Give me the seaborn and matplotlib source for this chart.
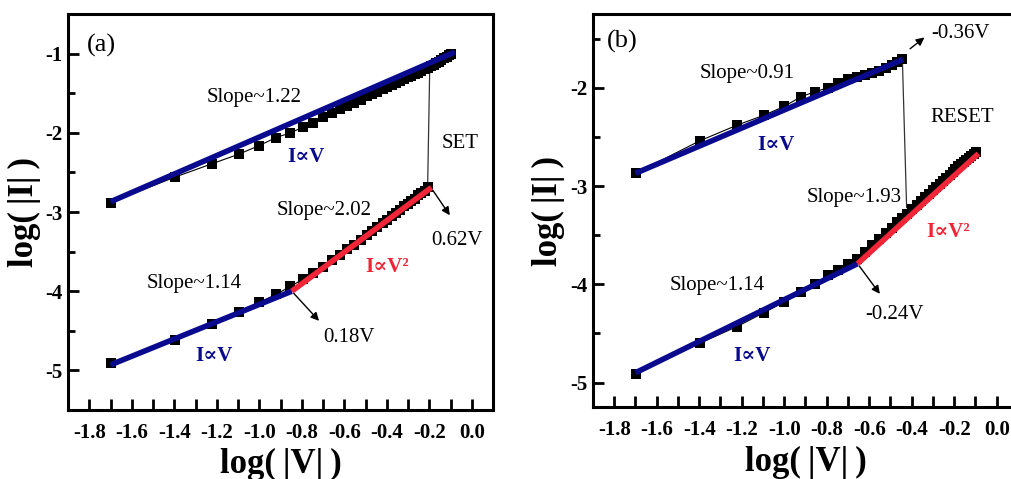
import matplotlib
matplotlib.use('Agg')
import matplotlib.pyplot as plt
import seaborn as sns
from matplotlib.ticker import MultipleLocator, FuncFormatter

sns.set_style('ticks', {'axes.edgecolor': 'black', 'xtick.color': 'black',
                        'ytick.color': 'black', 'text.color': 'black', 'axes.labelcolor': 'black'})
plt.rcParams['font.family'] = ['Liberation Serif', 'DejaVu Serif']
plt.rcParams['axes.unicode_minus'] = False

# log(|V|) of the sweep points (0.02 V steps)
logv_full = [-1.699, -1.398, -1.222, -1.097, -1.000, -0.921, -0.854, -0.796, -0.745, -0.699,
             -0.658, -0.620, -0.585, -0.553, -0.523, -0.495, -0.469, -0.444, -0.420, -0.398,
             -0.377, -0.357, -0.337, -0.319, -0.301, -0.284, -0.268, -0.252, -0.237, -0.222,
             -0.208, -0.194, -0.180, -0.167, -0.155, -0.143, -0.131, -0.119, -0.108, -0.097]
logv_set = logv_full[:31]     # up to 0.62 V
logv_reset = logv_full[:18]   # up to 0.36 V

# panel (a): SET
logi_a_low = [-4.90, -4.61, -4.42, -4.26, -4.14, -4.04, -3.94, -3.85, -3.77, -3.69,
              -3.61, -3.54, -3.47, -3.41, -3.35, -3.29, -3.24, -3.19, -3.14, -3.10,
              -3.05, -3.01, -2.97, -2.93, -2.90, -2.86, -2.83, -2.79, -2.76, -2.73,
              -2.69]
logi_a_high = [-2.88, -2.56, -2.39, -2.27, -2.16, -2.06, -2.00, -1.93, -1.87, -1.80,
               -1.75, -1.70, -1.66, -1.62, -1.58, -1.54, -1.51, -1.48, -1.45, -1.42,
               -1.39, -1.37, -1.34, -1.32, -1.30, -1.28, -1.26, -1.24, -1.22, -1.20,
               -1.18, -1.16, -1.14, -1.12, -1.10, -1.08, -1.06, -1.04, -1.02, -1.00]

# panel (b): RESET
logi_b_high = [-2.87, -2.54, -2.38, -2.28, -2.19, -2.09, -2.04, -2.00, -1.95, -1.91,
               -1.89, -1.87, -1.85, -1.83, -1.80, -1.77, -1.74, -1.71]
logi_b_low = [-4.91, -4.60, -4.43, -4.29, -4.18, -4.08, -4.00, -3.91, -3.85, -3.79,
              -3.74, -3.67, -3.60, -3.54, -3.48, -3.43, -3.37, -3.32, -3.28, -3.23,
              -3.19, -3.15, -3.11, -3.08, -3.04, -3.01, -2.98, -2.95, -2.92, -2.89,
              -2.86, -2.83, -2.80, -2.78, -2.76, -2.73, -2.71, -2.69, -2.67, -2.65]

# linear fits (end points)
fit_a_high = ([-1.70, -0.08], [-2.87, -0.98])
fit_a_low1 = ([-1.70, -0.847], [-4.93, -4.00])
fit_a_low2 = ([-0.847, -0.19], [-4.00, -2.69])
fit_b_high = ([-1.70, -0.44], [-2.87, -1.71])
fit_b_low1 = ([-1.70, -0.655], [-4.90, -3.79])
fit_b_low2 = ([-0.655, -0.086], [-3.79, -2.67])

BLUE = '#0a0a8e'
RED = '#f02638'
LABEL_V = 'log(\u2009|V|\u2009)'
LABEL_I = 'log(\u2009|I|\u2009)'

fig = plt.figure(figsize=(10.11, 4.79), dpi=100)
ax_a = fig.add_axes([0.0673, 0.144, 0.4204, 0.8267])
ax_b = fig.add_axes([0.5865, 0.150, 0.4204, 0.8205])


def draw_branch(ax, x, y):
    sns.lineplot(x=x, y=y, ax=ax, color='black', lw=0.8, sort=False, estimator=None, zorder=2)
    sns.scatterplot(x=x, y=y, ax=ax, marker='s', s=62, color='black', linewidth=0, zorder=3)


def draw_fit(ax, fit, color):
    sns.lineplot(x=fit[0], y=fit[1], ax=ax, color=color, lw=4, sort=False, estimator=None,
                 zorder=4, solid_capstyle='butt')


def style_axes(ax, ylim):
    ax.set_xlim(-1.9, 0.1)
    ax.set_ylim(*ylim)
    ax.xaxis.set_major_locator(MultipleLocator(0.2))
    ax.xaxis.set_minor_locator(MultipleLocator(0.1))
    ax.yaxis.set_major_locator(MultipleLocator(1))
    ax.yaxis.set_minor_locator(MultipleLocator(0.5))
    ax.xaxis.set_major_formatter(FuncFormatter(lambda v, p: f'{v:.1f}'.replace('-0.0', '0.0')))
    ax.yaxis.set_major_formatter(FuncFormatter(lambda v, p: f'{v:.0f}'))
    ax.tick_params(which='both', direction='in', width=2, top=False, right=False, colors='black')
    ax.tick_params(axis='x', which='both', length=8, pad=9, labelsize=15)
    ax.tick_params(axis='y', which='major', length=8, pad=4, labelsize=15)
    ax.tick_params(axis='y', which='minor', length=5)
    plt.setp(ax.get_xticklabels() + ax.get_yticklabels(), fontweight='bold')
    for s in ax.spines.values():
        s.set_linewidth(2.2)
        s.set_color('black')
    ax.set_xlabel(LABEL_V, fontsize=25, fontweight='bold')
    ax.set_ylabel(LABEL_I, fontsize=25, fontweight='bold')


def arrow(ax, start, end):
    ax.annotate('', xy=end, xytext=start,
                arrowprops=dict(arrowstyle='-|>', color='black', lw=1.0, mutation_scale=12))


# ---- panel (a)
draw_branch(ax_a, logv_full, logi_a_high)
draw_branch(ax_a, logv_set, logi_a_low)
draw_fit(ax_a, fit_a_high, BLUE)
draw_fit(ax_a, fit_a_low1, BLUE)
draw_fit(ax_a, fit_a_low2, RED)
ax_a.plot([logv_set[-1] + 0.01, logv_set[-1]], [logi_a_high[30], logi_a_low[-1]], color='#333333', lw=0.9, zorder=1)
style_axes(ax_a, (-5.5, -0.5))
ax_a.xaxis.set_label_coords(0.5, -0.095)
ax_a.yaxis.set_label_coords(-0.064, 0.5)

ax_a.text(0.045, 0.92, '(a)', transform=ax_a.transAxes, fontsize=19, va='center')
ax_a.text(-1.25, -1.55, 'Slope~1.22', fontsize=15, va='center')
ax_a.text(-0.87, -2.31, 'I∝V', fontsize=15, fontweight='bold', color=BLUE, va='center')
ax_a.text(-0.14, -2.13, 'SET', fontsize=15, va='center')
ax_a.text(-0.92, -2.98, 'Slope~2.02', fontsize=15, va='center')
ax_a.text(-0.19, -3.36, '0.62V', fontsize=15, va='center')
ax_a.text(-0.50, -3.70, 'I∝V²', fontsize=15, fontweight='bold', color=RED, va='center')
ax_a.text(-1.53, -3.90, 'Slope~1.14', fontsize=15, va='center')
ax_a.text(-0.70, -4.58, '0.18V', fontsize=15, va='center')
ax_a.text(-1.30, -4.82, 'I∝V', fontsize=15, fontweight='bold', color=BLUE, va='center')
arrow(ax_a, (-0.19, -2.70), (-0.096, -3.07))
arrow(ax_a, (-0.847, -4.00), (-0.71, -4.40))

# ---- panel (b)
draw_branch(ax_b, logv_reset, logi_b_high)
draw_branch(ax_b, logv_full, logi_b_low)
draw_fit(ax_b, fit_b_high, BLUE)
draw_fit(ax_b, fit_b_low1, BLUE)
draw_fit(ax_b, fit_b_low2, RED)
ax_b.plot([logv_reset[-1], logv_reset[-1] + 0.02], [logi_b_high[-1], logi_b_low[17] + 0.1], color='#333333', lw=0.9, zorder=1)
style_axes(ax_b, (-5.25, -1.25))
ax_b.xaxis.set_label_coords(0.5, -0.1)
ax_b.yaxis.set_label_coords(-0.066, 0.5)

ax_b.text(0.033, 0.93, '(b)', transform=ax_b.transAxes, fontsize=19, va='center')
ax_b.text(-0.31, -1.45, '-0.36V', fontsize=15, va='center')
ax_b.text(-1.40, -1.85, 'Slope~0.91', fontsize=15, va='center')
ax_b.text(-1.125, -2.58, 'I∝V', fontsize=15, fontweight='bold', color=BLUE, va='center')
ax_b.text(-0.31, -2.30, 'RESET', fontsize=15, va='center')
ax_b.text(-0.895, -3.12, 'Slope~1.93', fontsize=15, va='center')
ax_b.text(-0.33, -3.47, 'I∝V²', fontsize=15, fontweight='bold', color=RED, va='center')
ax_b.text(-1.54, -4.01, 'Slope~1.14', fontsize=15, va='center')
ax_b.text(-0.62, -4.31, '-0.24V', fontsize=15, va='center')
ax_b.text(-1.24, -4.73, 'I∝V', fontsize=15, fontweight='bold', color=BLUE, va='center')
arrow(ax_b, (-0.418, -1.62), (-0.33, -1.47))
arrow(ax_b, (-0.655, -3.79), (-0.542, -4.12))

fig.savefig('out.png', dpi=100)
